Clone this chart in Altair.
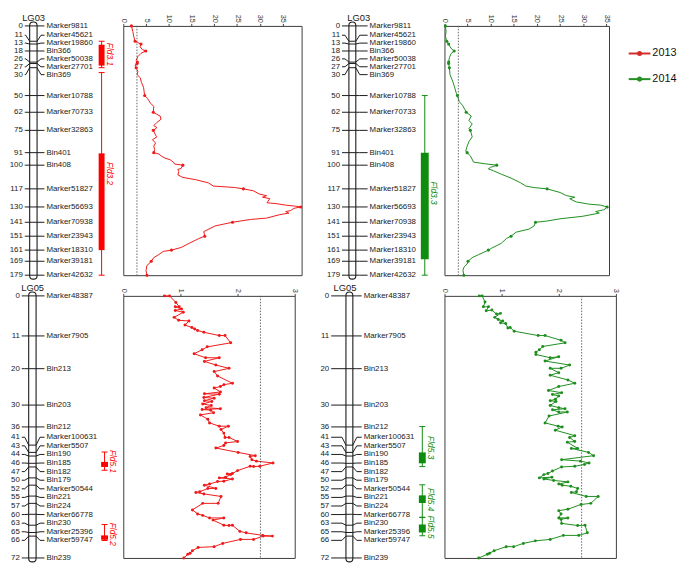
import altair as alt
import pandas as pd

# ---------------- data ----------------
LG03_POS = [0, 11, 13, 18, 26, 27, 30, 50, 62, 75, 91, 100, 117, 130, 141, 151, 161, 169, 179]
LG03_NAMES = ["Marker9811", "Marker45621", "Marker19860", "Bin366", "Marker50038", "Marker27701",
              "Bin369", "Marker10788", "Marker70733", "Marker32863", "Bin401", "Bin408",
              "Marker51827", "Marker56693", "Marker70938", "Marker23943", "Marker18310",
              "Marker39181", "Marker42632"]
LG05_POS = [0, 11, 20, 30, 36, 41, 43, 44, 46, 47, 50, 52, 55, 57, 60, 63, 65, 66, 72]
LG05_NAMES = ["Marker48387", "Marker7905", "Bin213", "Bin203", "Bin212", "Marker100631",
              "Marker5507", "Bin190", "Bin185", "Bin182", "Bin179", "Marker50544", "Bin221",
              "Bin224", "Marker66778", "Bin230", "Marker25396", "Marker59747", "Bin239"]

LOD03_2013_POS = [
    0, 4, 7.5, 11, 12, 13, 15, 17, 18, 19.7,
    22, 24.7, 26, 27, 28, 30, 32.7, 35, 37.3, 40.7,
    44, 50, 52, 55.5, 57.8, 62, 63.5, 64.7, 67, 69.3,
    71.6, 73, 75, 78.4, 79.6, 81.8, 84, 86.4, 88.7, 91,
    92, 93.7, 95, 96, 97.8, 99.2, 100, 102.4, 103, 104.7,
    107, 108.8, 110.4, 112.7, 115, 116, 117, 118.4, 120.7, 121.9,
    123, 124, 127, 127.6, 128.7, 129.4, 130, 131, 132.6, 133.3,
    134.4, 135.6, 138, 139, 141, 143.6, 147.7, 151, 152.7, 156.1,
    159.1, 161, 161.9, 164.2, 166.4, 169, 170, 172, 175.6, 179]
LOD03_2013_VAL = [
    1.8, 2.1, 2.3, 2.6, 3.2, 3.9, 3.7, 4.2, 4.95, 3.9,
    3.2, 2.83, 3.1, 3.04, 2.6, 2.83, 3.2, 3.04, 3.75, 4.0,
    4.45, 4.7, 5.3, 6.0, 6.7, 6.6, 7.4, 8.1, 8.3, 7.4,
    6.7, 7.4, 6.6, 7.1, 7.4, 6.4, 7.1, 6.7, 6.9, 6.7,
    7.8, 8.5, 9.2, 10.25, 11.0, 11.3, 13.1, 12.7, 12.0, 12.2,
    12.0, 13.1, 15.9, 18.7, 19.8, 24.4, 26.4, 28.6, 29.9, 31.5,
    30.6, 32.2, 31.6, 33.6, 35.7, 37.8, 39.0, 37.5, 36.8, 35.7,
    36.4, 34.3, 31.5, 27.9, 24.0, 20.2, 17.7, 17.9, 16.6, 14.5,
    12.7, 10.6, 8.8, 7.8, 6.7, 6.15, 5.9, 5.2, 5.0, 5.2]

LOD03_2014_POS = [
    0, 4, 7.5, 11, 13, 15, 16.7, 18, 20, 22.9,
    26, 27, 30, 35, 39.6, 43, 48.7, 50, 54.4, 57,
    60, 62, 64.7, 68, 70.4, 73.8, 75, 79.6, 83, 86.4,
    89.8, 91, 93.3, 97.8, 99, 100, 101.5, 102.6, 104, 106.5,
    109.3, 112.7, 115, 116.1, 117, 119.6, 121.9, 123, 124.1, 126.4,
    128, 128.7, 130, 132, 133.3, 134.4, 136.7, 138.5, 140.1, 141,
    143.6, 145.9, 148.1, 151, 152.7, 156.1, 159.6, 161, 164.2, 166.4,
    169, 171, 173.3, 175.6, 179]
LOD03_2014_VAL = [
    0.2, 0.35, 0.2, 0.5, 0.9, 1.2, 1.6, 2.1, 1.4, 1.06,
    0.9, 0.9, 1.06, 1.2, 1.76, 2.1, 2.6, 2.8, 3.2, 3.9,
    4.4, 4.7, 5.8, 5.3, 6.0, 5.3, 5.6, 6.0, 5.3, 4.9,
    4.6, 4.9, 5.6, 6.3, 8.8, 11.3, 10.0, 9.5, 10.6, 12.3,
    14.4, 16.5, 17.6, 19.4, 22.2, 25.0, 26.4, 28.2, 27.1, 28.5,
    31.3, 33.8, 35.2, 34.5, 32.7, 33.5, 29.9, 25.0, 22.2, 19.7,
    19.4, 18.3, 15.5, 14.4, 13.4, 12.3, 10.2, 9.5, 7.4, 6.0,
    5.1, 4.9, 4.2, 4.0, 4.2]

LOD05_2013_POS = [
    0, 0, 1.8, 3, 3, 3.6, 4, 4.5, 5.9, 6.7,
    6.9, 8, 8.7, 9.1, 9.5, 10, 10.9, 10.9, 12.9, 14,
    14.8, 15.9, 17, 17, 18, 19, 19.9, 20.8, 22, 24,
    24.4, 24.9, 25.3, 26.4, 26.9, 27, 27.9, 28.1, 28.8, 29,
    29.7, 30.1, 30.7, 31, 31.2, 31.4, 32.1, 32.7, 33.9, 34.9,
    35.8, 35.8, 36.7, 37.7, 38.9, 38.9, 40, 40.4, 41.1, 41.8,
    43, 43.9, 44.1, 45, 45.4, 45.9, 46.8, 46.9, 46.8, 48,
    48.8, 48.9, 49.1, 49.8, 50, 50.3, 50.9, 51, 51.7, 52,
    52.9, 52.9, 53.8, 54, 54.4, 55.1, 57, 57, 58.8, 59.9,
    60.3, 61, 61, 61.6, 63, 63.1, 63, 64.7, 65.1, 65.8,
    66, 66, 66.9, 66.9, 68, 68.9, 69.1, 70, 70.7, 71,
    72]
LOD05_2013_VAL = [
    0.72, 0.81, 0.92, 0.98, 0.91, 1.02, 0.91, 1.05, 0.89, 0.97,
    1.15, 1.08, 1.2, 1.25, 1.3, 1.41, 1.68, 1.78, 1.88, 1.47,
    1.38, 1.24, 1.44, 1.68, 1.42, 1.62, 1.85, 1.59, 1.65, 1.91,
    1.76, 1.70, 1.59, 1.70, 1.42, 1.68, 1.41, 1.59, 1.42, 1.55,
    1.39, 1.54, 1.45, 1.70, 1.38, 1.53, 1.58, 1.35, 1.48, 1.51,
    1.68, 1.84, 1.71, 1.76, 1.78, 1.85, 2.0, 1.79, 1.76, 1.62,
    2.01, 2.31, 2.22, 2.25, 2.33, 2.62, 2.39, 2.28, 2.22, 2.0,
    1.91, 1.82, 1.88, 1.79, 1.68, 1.91, 1.76, 1.65, 1.51, 1.42,
    1.62, 1.48, 1.34, 1.27, 1.41, 1.71, 1.66, 1.39, 1.21, 1.30,
    1.39, 1.51, 1.76, 1.57, 1.76, 1.85, 1.91, 2.04, 2.15, 2.44,
    2.61, 2.45, 2.28, 2.05, 1.74, 1.59, 1.31, 1.21, 1.17, 1.13,
    1.06]

LOD05_2014_POS = [
    0, 0, 1.7, 3, 3, 4.1, 3.9, 5, 4.8, 5.9,
    6.5, 6.9, 7.4, 7.6, 8.8, 8.7, 9.7, 10.9, 10.9, 12.2,
    12.9, 13.9, 14.8, 15.5, 16.1, 17, 16.7, 17.9, 19, 19.9,
    19.9, 21.1, 21.8, 23.1, 24, 24.9, 26, 26.6, 27.1, 27.5,
    28.4, 28.8, 29, 30.1, 30.7, 31, 31.3, 31.9, 31.9, 33,
    34.9, 35.8, 36, 36.9, 38.4, 38.9, 40, 40.2, 41.9, 41.9,
    43, 43.9, 45, 45.4, 45.9, 46.3, 46.8, 47, 48.1, 48.8,
    49.1, 50, 49.8, 50.3, 50.7, 51.1, 51.7, 52, 52.3, 52.9,
    53.8, 54, 55.1, 55.1, 57, 57.3, 58.6, 59, 59.9, 61,
    61, 61.4, 62.5, 63.1, 63, 65.1, 65.8, 65.8, 66.9, 67.3,
    68, 68.9, 68.9, 70, 70.7, 71, 72]
LOD05_2014_VAL = [
    0.61, 0.66, 0.71, 0.68, 0.77, 0.73, 0.83, 0.91, 0.98, 0.88,
    0.94, 1.02, 0.98, 1.07, 1.11, 1.15, 1.22, 1.64, 1.76, 2.04,
    2.11, 1.72, 1.66, 1.6, 1.6, 1.85, 2.0, 1.76, 2.19, 2.04,
    1.85, 2.0, 1.85, 2.16, 2.28, 2.0, 1.82, 2.05, 1.89, 2.0,
    1.94, 1.85, 1.95, 1.85, 2.0, 2.11, 1.89, 2.0, 2.15, 1.83,
    1.76, 1.99, 2.06, 1.94, 2.28, 2.19, 2.28, 2.15, 2.33, 2.22,
    2.52, 2.61, 2.05, 2.38, 2.53, 2.45, 2.28, 2.05, 1.89, 1.81,
    1.74, 1.66, 1.88, 1.74, 1.91, 2.16, 2.0, 2.06, 2.21, 2.33,
    2.31, 2.22, 2.48, 2.69, 2.56, 2.39, 2.16, 2.0, 2.04, 2.0,
    2.16, 2.04, 2.05, 2.33, 2.46, 2.5, 2.35, 2.08, 1.85, 1.59,
    1.38, 1.21, 1.08, 0.87, 0.79, 0.75, 0.60]

QTL_NAMES = ["Fld3.1", "Fld3.2", "Fld3.3", "Fld5.1", "Fld5.2", "Fld5.3", "Fld5.4", "Fld5.5"]
QTL_LG = ["LG03", "LG03", "LG03", "LG05", "LG05", "LG05", "LG05", "LG05"]
QTL_YEAR = ["2013", "2013", "2014", "2013", "2013", "2014", "2014", "2014"]
QTL_CI_START = [11, 33.5, 50, 42.9, 62.8, 35.9, 51.9, 60.9]
QTL_CI_END = [30, 179, 179, 47.9, 67.2, 46.9, 60.8, 65.9]
QTL_BOX_START = [13.5, 91.5, 91, 45.6, 65.8, 43, 54.8, 62.8]
QTL_BOX_END = [28.5, 161, 167.5, 47.0, 67.0, 46.0, 56.9, 65.0]
QTL_LABEL_POS = [20.5, 106, 120, 45.5, 65.5, 41.7, 56, 63.5]

THRESH_LG03 = 3.0
THRESH_LG05 = 2.4
LG03_TICKS = [0, 5, 10, 15, 20, 25, 30, 35]
LG05_TICKS = [0, 1, 2, 3]
YEARS = ["2013", "2014"]

for a, b in [(LOD03_2013_POS, LOD03_2013_VAL), (LOD03_2014_POS, LOD03_2014_VAL),
             (LOD05_2013_POS, LOD05_2013_VAL), (LOD05_2014_POS, LOD05_2014_VAL)]:
    assert len(a) == len(b), (len(a), len(b))

# ---------------- style ----------------
FONT = "Liberation Sans"
INK = "#1a1a1a"
RED_LINE = "#ee1a1a"
GREEN_LINE = "#1e8e1e"
RED_QTL = "#ff0000"
GREEN_QTL = "#0e8c0e"
LEG_RED = "#d42a2a"
LEG_GREEN = "#229022"
H1, H2 = 253, 266
FS = 8


def spread(vals, gap):
    clusters = [[v] for v in vals]

    def start(c):
        return sum(c) / len(c) - gap * (len(c) - 1) / 2

    merged = True
    while merged:
        merged = False
        out = [clusters[0]]
        for c in clusters[1:]:
            p = out[-1]
            if start(p) + gap * len(p) > start(c) + 1e-9:
                out[-1] = p + c
                merged = True
            else:
                out.append(c)
        clusters = out
    res = []
    for c in clusters:
        s = start(c)
        res += [s + gap * i for i in range(len(c))]
    return res


def yscale(ymax):
    return alt.Scale(domain=[0, ymax], reverse=True, nice=False, zero=False)


def map_panel(title, pos, names, gap, ymax, h, p, lg, year, qcolor):
    ysc = yscale(ymax)

    def Y(f):
        return alt.Y(f, scale=ysc, axis=None)

    mk = pd.DataFrame({"pos": pos, "name": names, "lab": spread(pos, gap),
                       "num": [str(v) for v in pos]})
    base = alt.Chart(mk)
    chrom = alt.Chart(pd.DataFrame({"a": [pos[0]], "b": [pos[-1]]})).mark_rect(
        fill="white", stroke=INK, strokeWidth=1.1, cornerRadius=3.5, yOffset=-4, y2Offset=4
    ).encode(x=alt.value(p["cl"]), x2=alt.value(p["cr"]), y=Y("a:Q"), y2="b:Q")
    rl = dict(color=INK, strokeWidth=1)
    inner = base.mark_rule(**rl).encode(x=alt.value(p["cl"]), x2=alt.value(p["cr"]), y=Y("pos:Q"))
    lh = base.mark_rule(**rl).encode(x=alt.value(p["nr"] + 2), x2=alt.value(p["cl"] - 4), y=Y("lab:Q"))
    la = base.mark_rule(**rl).encode(x=alt.value(p["cl"] - 4), x2=alt.value(p["cl"]),
                                     y=Y("lab:Q"), y2="pos:Q")
    ra = base.mark_rule(**rl).encode(x=alt.value(p["cr"]), x2=alt.value(p["cr"] + 4),
                                     y=Y("pos:Q"), y2="lab:Q")
    rh = base.mark_rule(**rl).encode(x=alt.value(p["cr"] + 4), x2=alt.value(p["lx"] - 2), y=Y("lab:Q"))
    nums = base.mark_text(align="right", baseline="middle", font=FONT, fontSize=FS, color=INK).encode(
        x=alt.value(p["nr"]), y=Y("lab:Q"), text="num:N")
    labs = base.mark_text(align="left", baseline="middle", font=FONT, fontSize=FS, color=INK).encode(
        x=alt.value(p["lx"]), y=Y("lab:Q"), text="name:N")
    ttl = alt.Chart(pd.DataFrame({"t": [title]})).mark_text(
        font=FONT, fontSize=9.5, color=INK, baseline="middle").encode(
        x=alt.value(p["tx"]), y=alt.value(-8), text="t:N")

    q = pd.DataFrame({"name": QTL_NAMES, "lg": QTL_LG, "year": QTL_YEAR, "s": QTL_CI_START,
                      "e": QTL_CI_END, "bs": QTL_BOX_START, "be": QTL_BOX_END, "lp": QTL_LABEL_POS})
    q = q[(q.lg == lg) & (q.year == year)]
    qb = alt.Chart(q)
    qx, qh = p["qx"], p["qh"]
    whisk = qb.mark_rule(color=qcolor, strokeWidth=1).encode(x=alt.value(qx), y=Y("s:Q"), y2="e:Q")
    cap1 = qb.mark_rule(color=qcolor, strokeWidth=1).encode(x=alt.value(qx - 3), x2=alt.value(qx + 3), y=Y("s:Q"))
    cap2 = qb.mark_rule(color=qcolor, strokeWidth=1).encode(x=alt.value(qx - 3), x2=alt.value(qx + 3), y=Y("e:Q"))
    box = qb.mark_rect(color=qcolor).encode(x=alt.value(qx - qh), x2=alt.value(qx + qh), y=Y("bs:Q"), y2="be:Q")
    qlab = qb.mark_text(angle=90, fontStyle="italic", font=FONT, fontSize=8.5, color=qcolor,
                        align="center", baseline="middle").encode(
        x=alt.value(p["qlx"]), y=Y("lp:Q"), text="name:N")
    return alt.layer(chrom, inner, lh, la, ra, rh, nums, labs, ttl, whisk, cap1, cap2, box, qlab).properties(
        width=p["w"], height=h)


def lod_panel(pos, val, dots_all, marker_pos, color, xmax, ticks, thr, ymax, w, h, dot_size):
    dot = [True if dots_all else (v in marker_pos) for v in pos]
    df = pd.DataFrame({"pos": pos, "lod": val, "i": list(range(len(pos))), "dot": dot})
    ysc = yscale(ymax)
    X = alt.X("lod:Q", scale=alt.Scale(domain=[0, xmax], nice=False, zero=True),
              axis=alt.Axis(orient="top", values=ticks, format="d", labelAngle=90, title=None,
                            grid=False, domain=False, tickSize=2.5, tickColor="#444",
                            labelColor="#333", labelFontSize=7.5, labelFont=FONT, labelPadding=1,
                            labelFlush=False, labelOverlap=False))
    Yc = alt.Y("pos:Q", scale=ysc, axis=None)
    base = alt.Chart(df)
    thr_rule = alt.Chart(pd.DataFrame({"lod": [thr]})).mark_rule(
        color="#555", strokeDash=[1.5, 1.5], strokeWidth=0.9).encode(x=X)
    line = base.mark_line(color=color, strokeWidth=1).encode(x=X, y=Yc, order="i:Q")
    pts = base.transform_filter("datum.dot").mark_circle(color=color, size=dot_size, opacity=1).encode(
        x=X, y=Yc)
    return alt.layer(line, thr_rule, pts).properties(
        width=w, height=h, view=alt.ViewBackground(stroke="#3c3c3c", strokeWidth=1))


P03R = dict(w=112, nr=14, cl=21, cr=28.5, lx=38, qx=94, qh=3, qlx=102, tx=25)
P03G = dict(w=145, nr=39, cl=48, cr=55, lx=69, qx=125, qh=4, qlx=134, tx=58)
P05R = dict(w=116, nr=11, cl=20, cr=27.5, lx=38, qx=97, qh=3.5, qlx=106, tx=24)
P05G = dict(w=143, nr=28, cl=45, cr=52, lx=63, qx=122.5, qh=3.5, qlx=131, tx=44)

map03r = map_panel("LG03", LG03_POS, LG03_NAMES, 5.66, 179, H1, P03R, "LG03", "2013", RED_QTL)
map03g = map_panel("LG03", LG03_POS, LG03_NAMES, 5.66, 179, H1, P03G, "LG03", "2014", GREEN_QTL)
map05r = map_panel("LG05", LG05_POS, LG05_NAMES, 2.36, 72, H2, P05R, "LG05", "2013", RED_QTL)
map05g = map_panel("LG05", LG05_POS, LG05_NAMES, 2.36, 72, H2, P05G, "LG05", "2014", GREEN_QTL)

lod03r = lod_panel(LOD03_2013_POS, LOD03_2013_VAL, False, LG03_POS, RED_LINE, 39.2, LG03_TICKS,
                   THRESH_LG03, 179, 181, H1, 10)
lod03g = lod_panel(LOD03_2014_POS, LOD03_2014_VAL, False, LG03_POS, GREEN_LINE, 35.6, LG03_TICKS,
                   THRESH_LG03, 179, 167, H1, 10)
lod05r = lod_panel(LOD05_2013_POS, LOD05_2013_VAL, True, LG05_POS, RED_LINE, 3.0, LG05_TICKS,
                   THRESH_LG05, 72, 174, H2, 9)
lod05g = lod_panel(LOD05_2014_POS, LOD05_2014_VAL, True, LG05_POS, GREEN_LINE, 3.0, LG05_TICKS,
                   THRESH_LG05, 72, 174, H2, 9)

leg = alt.Chart(pd.DataFrame({"year": YEARS}))
ly = alt.Y("year:N", scale=alt.Scale(type="point", domain=YEARS, range=[28, 54], padding=0), axis=None)
lc = alt.Color("year:N", scale=alt.Scale(domain=YEARS, range=[LEG_RED, LEG_GREEN]), legend=None)
legend = alt.layer(
    leg.mark_rule(strokeWidth=2).encode(x=alt.value(13), x2=alt.value(35), y=ly, color=lc),
    leg.mark_circle(size=26, opacity=1).encode(x=alt.value(24), y=ly, color=lc),
    leg.mark_text(align="left", baseline="middle", font=FONT, fontSize=11, color="#111").encode(
        x=alt.value(37), y=ly, text="year:N"),
).properties(width=54, height=H1)

chart = alt.concat(
    map03r, lod03r, map03g, lod03g, legend,
    map05r, lod05r, map05g, lod05g,
    columns=5, spacing=alt.RowColnumber(row=21, column=0), bounds="flush", align="none",
).properties(padding=0).configure_view(stroke="transparent")

chart.save("out.html", embed_options={"renderer": "svg", "actions": False})
